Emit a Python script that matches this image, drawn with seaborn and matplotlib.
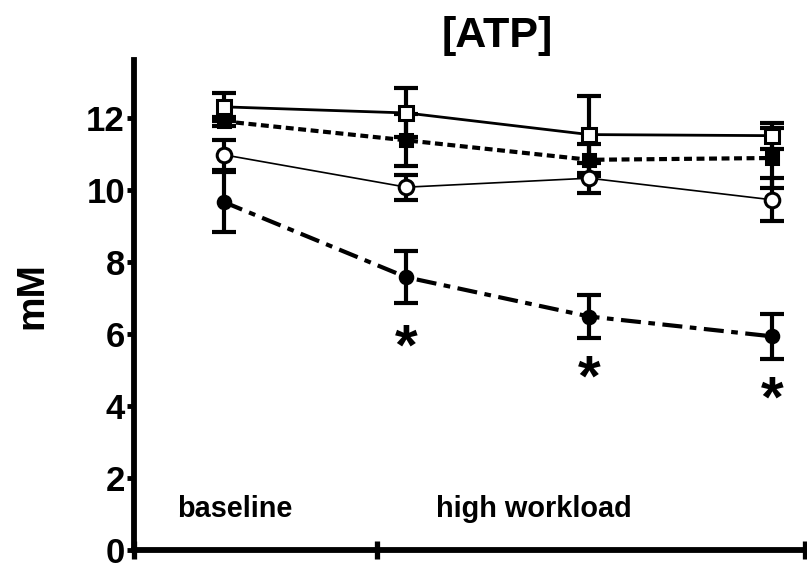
import numpy as np
import pandas as pd
import matplotlib
matplotlib.use("Agg")
import matplotlib.pyplot as plt
import matplotlib.transforms as mtransforms
import seaborn as sns

# Time points: one baseline sample, three during high workload
time_points = [0, 1, 2, 3]

# Group means (mM) and SEM
open_square_mean = [12.30, 12.13, 11.53, 11.50]
open_square_sem = [0.39, 0.68, 1.08, 0.36]

filled_square_mean = [11.90, 11.37, 10.83, 10.88]
filled_square_sem = [0.12, 0.72, 0.45, 0.83]

open_circle_mean = [10.97, 10.07, 10.32, 9.72]
open_circle_sem = [0.42, 0.35, 0.42, 0.60]

filled_circle_mean = [9.66, 7.57, 6.48, 5.93]
filled_circle_sem = [0.82, 0.72, 0.60, 0.62]

# Significance markers (time point, vertical centre in mM)
star_x = [1, 2, 3]
star_y = [5.86, 5.00, 4.42]

y_ticks = [0, 2, 4, 6, 8, 10, 12]
period_ticks = [-0.49, 0.837, 3.18]
period_labels = ["baseline", "high workload"]
period_label_x = [-0.253, 1.164]

sns.set_style("ticks")
plt.rcParams["font.family"] = ["Liberation Sans", "DejaVu Sans"]
plt.rcParams["font.weight"] = "bold"
for key in ["text.color", "axes.labelcolor", "xtick.color", "ytick.color", "axes.edgecolor"]:
    plt.rcParams[key] = "black"

fig = plt.figure(figsize=(8.07, 5.68), dpi=100)
ax = fig.add_axes([134 / 807, 18 / 568, (805 - 134) / 807, (550 - 60) / 568])

series = [
    dict(mean=open_square_mean, sem=open_square_sem, marker="s", mfc="white",
         ms=10, lw=2.0, ls="-", z=4),
    dict(mean=filled_square_mean, sem=filled_square_sem, marker="s", mfc="black",
         ms=9, lw=3.0, ls=(0, (1.9, 1.1)), z=3),
    dict(mean=open_circle_mean, sem=open_circle_sem, marker="o", mfc="white",
         ms=10.5, lw=1.2, ls="-", z=5),
    dict(mean=filled_circle_mean, sem=filled_circle_sem, marker="o", mfc="black",
         ms=9, lw=3.0, ls=(0, (4.8, 1.8, 1.6, 1.8)), z=2),
]

for s in series:
    df = pd.DataFrame({"t": time_points, "mM": s["mean"]})
    ax.errorbar(df["t"], df["mM"], yerr=s["sem"], fmt="none", ecolor="black",
                elinewidth=3.0, capsize=8.5, capthick=3.0, zorder=s["z"])
    sns.lineplot(data=df, x="t", y="mM", ax=ax, color="black", lw=s["lw"],
                 linestyle=s["ls"], marker=s["marker"], markersize=s["ms"],
                 markerfacecolor=s["mfc"], markeredgecolor="black",
                 markeredgewidth=2.2, zorder=s["z"] + 0.5)

star_fs = 42
star_tr = mtransforms.offset_copy(ax.transData, fig=fig, y=-0.44 * star_fs, units="points")
for sx, sy in zip(star_x, star_y):
    ax.text(sx, sy, "*", fontsize=star_fs, fontweight="bold", ha="center",
            va="baseline", transform=star_tr)

for lx, lab in zip(period_label_x, period_labels):
    ax.text(lx, 0.92, lab, fontsize=20.8, fontweight="bold", ha="left", va="baseline")

ax.set_xlim(-0.49, 3.18)
ax.set_ylim(0, 13.6)
ax.set_yticks(y_ticks)
ax.set_yticklabels([str(v) for v in y_ticks], fontsize=25, fontweight="bold")
ax.set_xticks(period_ticks)
ax.set_xticklabels([])
ax.set_xlabel("")
ax.set_ylabel("")

for side in ["top", "right"]:
    ax.spines[side].set_visible(False)
for side in ["left", "bottom"]:
    ax.spines[side].set_linewidth(4.2)
    ax.spines[side].set_color("black")

ax.tick_params(axis="y", direction="out", length=5, width=3.5, pad=1.5, colors="black")
ax.tick_params(axis="x", direction="inout", length=13, width=3.8, colors="black")

fig.text(32 / 807, 1 - 296 / 568, "mM", rotation=90, fontsize=28, fontweight="bold",
         ha="center", va="center")
fig.text(497 / 807, 1 - 47 / 568, "[ATP]", fontsize=31, fontweight="bold",
         ha="center", va="baseline")

fig.savefig("out.png", dpi=100)
